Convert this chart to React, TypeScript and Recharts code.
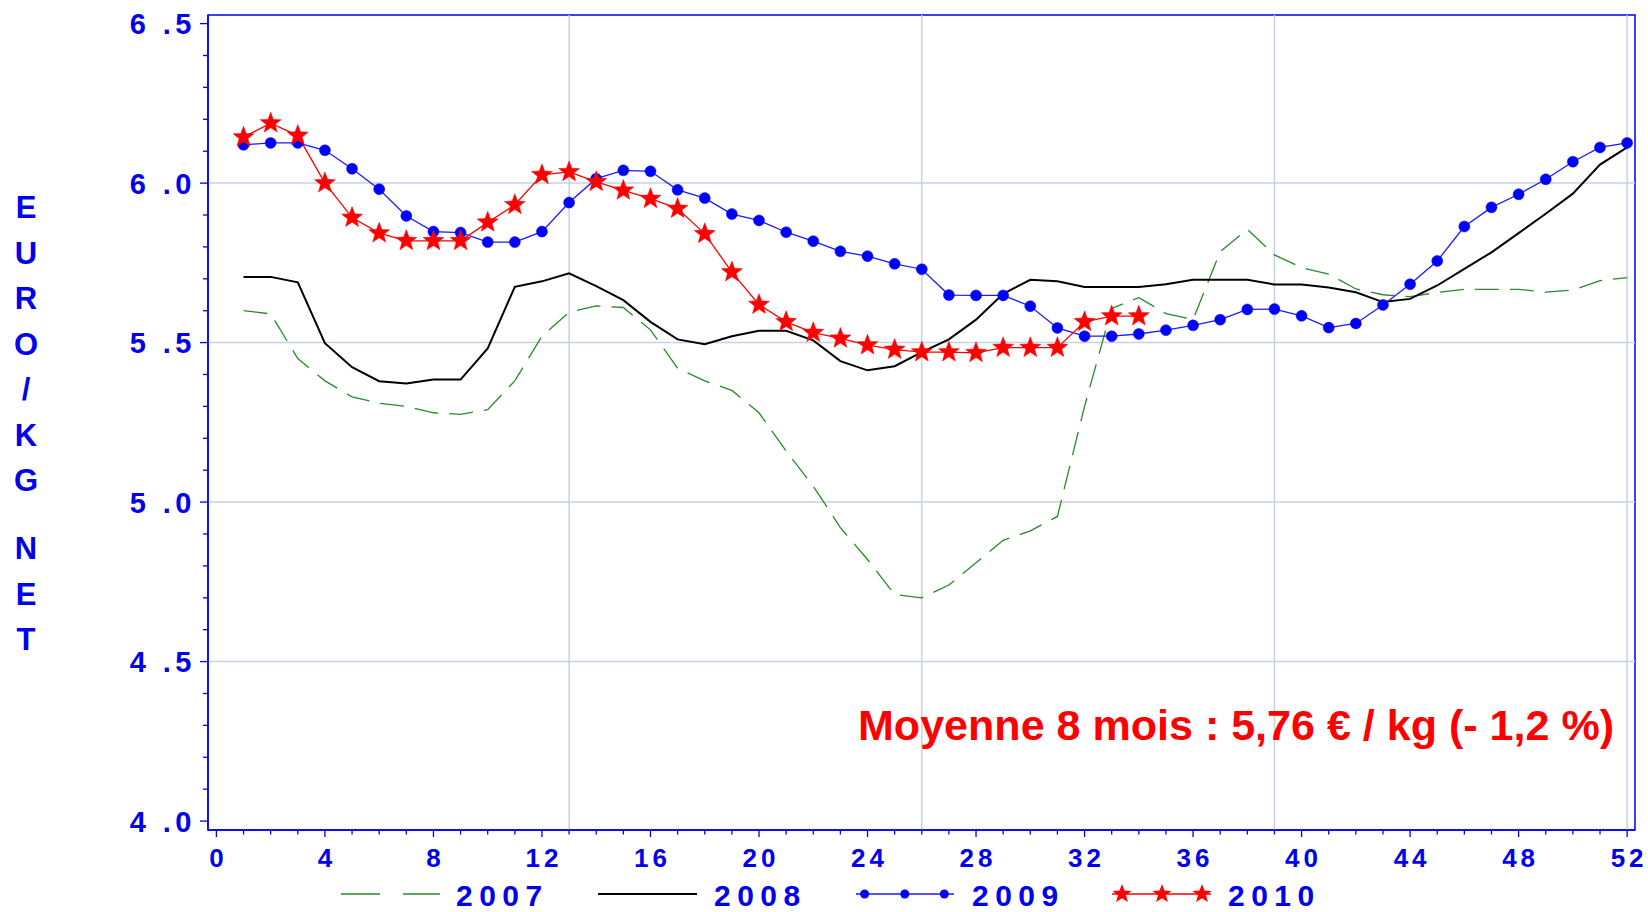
import React from 'react';
import { LineChart, Line, XAxis, YAxis, ReferenceLine, ReferenceArea } from 'recharts';

// semaines
const weeks = Array.from({ length: 52 }, (_, i) => i + 1);

// prix en euro / kg net
const price2007 = [
  5.6, 5.59, 5.45, 5.38, 5.33, 5.31, 5.3, 5.28, 5.275, 5.29,
  5.38, 5.52, 5.595, 5.615, 5.61, 5.54, 5.42, 5.38, 5.35, 5.28,
  5.16, 5.05, 4.92, 4.82, 4.71, 4.7, 4.74, 4.81, 4.88, 4.91,
  4.955, 5.3, 5.607, 5.641, 5.591, 5.572, 5.785, 5.855, 5.775, 5.735,
  5.715, 5.668, 5.65, 5.644, 5.657, 5.667, 5.667, 5.667, 5.658, 5.665,
  5.694, 5.704,
];
const price2008 = [
  5.706, 5.706, 5.689, 5.498, 5.423, 5.379, 5.372, 5.384, 5.384, 5.482,
  5.675, 5.692, 5.717, 5.677, 5.633, 5.565, 5.51, 5.495, 5.52, 5.537,
  5.537, 5.507, 5.442, 5.413, 5.426, 5.47, 5.51, 5.572, 5.653, 5.697,
  5.692, 5.674, 5.674, 5.674, 5.683, 5.697, 5.697, 5.697, 5.682, 5.682,
  5.673, 5.658, 5.627, 5.637, 5.679, 5.731, 5.783, 5.843, 5.904, 5.967,
  6.058, 6.112,
];
const price2009 = [
  6.12, 6.126, 6.126, 6.103, 6.045, 5.981, 5.897, 5.848, 5.845, 5.815,
  5.815, 5.848, 5.939, 6.014, 6.04, 6.037, 5.979, 5.953, 5.903, 5.883,
  5.846, 5.818, 5.786, 5.771, 5.747, 5.73, 5.649, 5.648, 5.648, 5.614,
  5.546, 5.52, 5.52, 5.527, 5.539, 5.554, 5.572, 5.604, 5.605, 5.584,
  5.547, 5.56, 5.618, 5.683, 5.756, 5.864, 5.924, 5.965, 6.012, 6.067,
  6.112, 6.126,
];
const price2010 = [
  6.144, 6.188, 6.149, 6.0, 5.892, 5.843, 5.819, 5.819, 5.819, 5.877,
  5.932, 6.026, 6.035, 6.004, 5.977, 5.951, 5.92, 5.841, 5.721, 5.619,
  5.565, 5.531, 5.513, 5.492, 5.478, 5.47, 5.47, 5.468, 5.484, 5.484,
  5.484, 5.565, 5.583, 5.583,
];

const xTicks = Array.from({ length: 53 }, (_, i) => i);
const yTicks = Array.from({ length: 26 }, (_, i) => Math.round((4 + i * 0.1) * 10) / 10);
const xGrid = [13, 26, 39, 52];
const yGrid = [4.5, 5.0, 5.5, 6.0];
const yTitle = ['E', 'U', 'R', 'O', '/', 'K', 'G', '', 'N', 'E', 'T'];
const note = 'Moyenne 8 mois : 5,76 € / kg (- 1,2 %)';

const X_DOMAIN = [-0.31, 52.29];
const Y_DOMAIN = [3.972, 6.527];

const BLUE = '#0000ee';
const GREEN = '#2a8a2a';
const GRID = '#c6d1e7';
const FONT = '"Liberation Sans", Arial, sans-serif';

const chartData = weeks.map((w, i) => ({
  week: w,
  y2007: price2007[i],
  y2008: price2008[i],
  y2009: price2009[i],
  y2010: i < price2010.length ? price2010[i] : null,
}));

const starPoints = (cx: number, cy: number, r: number) => {
  const pts: string[] = [];
  for (let k = 0; k < 10; k++) {
    const rad = k % 2 === 0 ? r : r * 0.42;
    const a = -Math.PI / 2 + (k * Math.PI) / 5;
    pts.push(`${cx + rad * Math.cos(a)},${cy + rad * Math.sin(a)}`);
  }
  return pts.join(' ');
};

const StarDot = (props: any) => {
  const { cx, cy, payload } = props;
  if (cx == null || cy == null || payload?.y2010 == null) return <g />;
  return <polygon points={starPoints(cx, cy, 11)} fill="#ff0000" stroke="#ff0000" strokeWidth={0.5} />;
};

const XTick = (props: any) => {
  const { x, y, payload } = props;
  const major = payload.value % 4 === 0;
  return (
    <g>
      <line x1={x} x2={x} y1={y} y2={y + (major ? 7 : 4.5)} stroke={BLUE} strokeWidth={1.3} />
      {major && (
        <text
          x={x + 2}
          y={y + 37}
          textAnchor="middle"
          fill={BLUE}
          fontFamily={FONT}
          fontWeight="bold"
          fontSize={26}
          style={{ letterSpacing: 4 }}
        >
          {payload.value}
        </text>
      )}
    </g>
  );
};

const YTick = (props: any) => {
  const { x, y, payload } = props;
  const v = payload.value as number;
  const major = Math.round(v * 10) % 5 === 0;
  return (
    <g>
      <line x1={x - (major ? 8 : 5)} x2={x} y1={y} y2={y} stroke={BLUE} strokeWidth={1.3} />
      {major && (
        <text
          x={x - 12}
          y={y + 10.5}
          textAnchor="end"
          fill={BLUE}
          fontFamily={FONT}
          fontWeight="bold"
          fontSize={29}
          style={{ letterSpacing: 4.5 }}
        >
          {v.toFixed(1).replace('.', ' .')}
        </text>
      )}
    </g>
  );
};

const legendText = { fill: BLUE, fontFamily: FONT, fontWeight: 'bold' as const, fontSize: 30 };

const App = () => {
  let titleY = 207;
  return (
    <div style={{ position: 'absolute', left: 0, top: 0, width: 1648, height: 912, background: '#fff' }}>
      <LineChart
        width={1648}
        height={912}
        data={chartData}
        margin={{ top: 15, right: 13, bottom: 0, left: 0 }}
      >
        {xGrid.map((g) => (
          <ReferenceLine key={`gx${g}`} x={g} stroke={GRID} strokeWidth={1.5} />
        ))}
        {yGrid.map((g) => (
          <ReferenceLine key={`gy${g}`} y={g} stroke={GRID} strokeWidth={1.5} />
        ))}
        <ReferenceArea
          x1={X_DOMAIN[0]}
          x2={X_DOMAIN[1]}
          y1={Y_DOMAIN[0]}
          y2={Y_DOMAIN[1]}
          fill="none"
          fillOpacity={0}
          stroke={BLUE}
          strokeWidth={1.5}
        />
        <XAxis
          dataKey="week"
          type="number"
          domain={X_DOMAIN}
          allowDataOverflow
          ticks={xTicks}
          interval={0}
          height={82}
          tickSize={0}
          tickMargin={0}
          tickLine={false}
          axisLine={{ stroke: BLUE, strokeWidth: 1.5 }}
          tick={<XTick />}
        />
        <YAxis
          type="number"
          domain={Y_DOMAIN}
          allowDataOverflow
          ticks={yTicks}
          interval={0}
          width={208}
          tickSize={0}
          tickMargin={0}
          tickLine={false}
          axisLine={{ stroke: BLUE, strokeWidth: 1.5 }}
          tick={<YTick />}
        />
        <Line
          dataKey="y2007"
          stroke={GREEN}
          strokeWidth={1.3}
          strokeDasharray="24 11"
          dot={false}
          isAnimationActive={false}
        />
        <Line dataKey="y2008" stroke="#000" strokeWidth={2} dot={false} isAnimationActive={false} />
        <Line
          dataKey="y2009"
          stroke="#1a1aff"
          strokeWidth={1.3}
          dot={{ r: 5.5, fill: '#0000ff', stroke: '#0000ff', strokeWidth: 0.5 }}
          isAnimationActive={false}
        />
        <Line
          dataKey="y2010"
          stroke="#ff0000"
          strokeWidth={1.3}
          dot={<StarDot />}
          isAnimationActive={false}
        />
      </LineChart>

      <svg
        width={1648}
        height={912}
        style={{ position: 'absolute', left: 0, top: 0, pointerEvents: 'none' }}
      >
        {yTitle.map((ch, i) => {
          const y = titleY;
          titleY += ch === '' ? 22.75 : 45.5;
          if (ch === '') return null;
          return (
            <text
              key={i}
              x={26}
              y={y + 11}
              textAnchor="middle"
              fill={BLUE}
              fontFamily={FONT}
              fontWeight="bold"
              fontSize={31}
            >
              {ch}
            </text>
          );
        })}

        <text
          x={858}
          y={740}
          fill="#ff0000"
          fontFamily={FONT}
          fontWeight="bold"
          fontSize={43}
          textLength={756}
          lengthAdjust="spacingAndGlyphs"
        >
          {note}
        </text>

        {/* légende */}
        <line x1={341} x2={440} y1={894} y2={894} stroke={GREEN} strokeWidth={1.6} strokeDasharray="39 23" />
        <text x={456} y={906} {...legendText} style={{ letterSpacing: 6.5 }}>2007</text>

        <line x1={598} x2={697} y1={894} y2={894} stroke="#000" strokeWidth={2} />
        <text x={714} y={906} {...legendText} style={{ letterSpacing: 6.5 }}>2008</text>

        <line x1={856} x2={954} y1={894} y2={894} stroke="#1a1aff" strokeWidth={1.5} />
        {[864.6, 904.8, 944.3].map((cx) => (
          <circle key={cx} cx={cx} cy={894} r={4.5} fill="#0000ff" />
        ))}
        <text x={972} y={906} {...legendText} style={{ letterSpacing: 6.5 }}>2009</text>

        <line x1={1112} x2={1211} y1={894} y2={894} stroke="#ff0000" strokeWidth={1.5} />
        {[1122, 1162, 1202].map((cx) => (
          <polygon key={cx} points={starPoints(cx, 894, 10)} fill="#ff0000" />
        ))}
        <text x={1228} y={906} {...legendText} style={{ letterSpacing: 6.5 }}>2010</text>
      </svg>
    </div>
  );
};

export default App;
